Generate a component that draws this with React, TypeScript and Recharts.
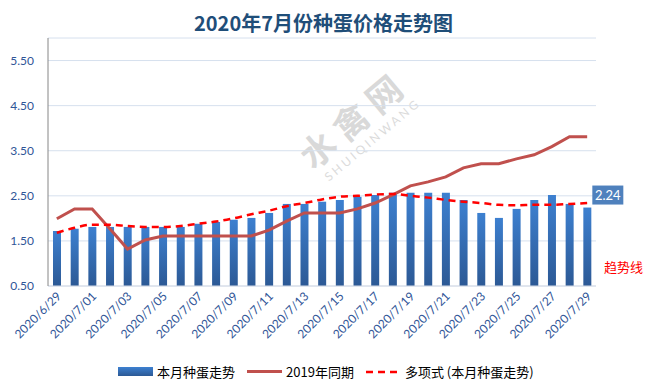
import React from "react";
import { ComposedChart, Bar, Line, XAxis, YAxis, CartesianGrid, LabelList } from "recharts";

const dates = [
  "2020/6/29", "2020/6/30", "2020/7/01", "2020/7/02", "2020/7/03", "2020/7/04", "2020/7/05", "2020/7/06",
  "2020/7/07", "2020/7/08", "2020/7/09", "2020/7/10", "2020/7/11", "2020/7/12", "2020/7/13", "2020/7/14",
  "2020/7/15", "2020/7/16", "2020/7/17", "2020/7/18", "2020/7/19", "2020/7/20", "2020/7/21", "2020/7/22",
  "2020/7/23", "2020/7/24", "2020/7/25", "2020/7/26", "2020/7/27", "2020/7/28", "2020/7/29",
];

// 本月种蛋走势
const thisMonth = [
  1.72, 1.77, 1.81, 1.81, 1.81, 1.81, 1.81, 1.81, 1.88, 1.92, 1.97, 2.01, 2.12, 2.32, 2.32, 2.37,
  2.41, 2.48, 2.52, 2.57, 2.57, 2.57, 2.57, 2.41, 2.12, 2.01, 2.21, 2.41, 2.52, 2.32, 2.24,
];

// 2019年同期
const lastYear = [
  1.99, 2.21, 2.21, 1.77, 1.32, 1.52, 1.61, 1.61, 1.61, 1.61, 1.61, 1.61, 1.74, 1.94, 2.12, 2.12,
  2.12, 2.21, 2.34, 2.52, 2.72, 2.81, 2.92, 3.12, 3.21, 3.21, 3.32, 3.41, 3.59, 3.81, 3.81,
];

// 多项式 (本月种蛋走势)
const trend = [
  1.68, 1.79, 1.86, 1.86, 1.83, 1.81, 1.81, 1.83, 1.88, 1.93, 2.0, 2.09, 2.17, 2.27, 2.34, 2.42,
  2.48, 2.5, 2.53, 2.54, 2.5, 2.46, 2.41, 2.37, 2.34, 2.3, 2.29, 2.3, 2.3, 2.32, 2.34,
];

const yTicks = [0.5, 1.5, 2.5, 3.5, 4.5, 5.5];

const data = dates.map((d, i) => ({
  date: d,
  thisMonth: thisMonth[i],
  lastYear: lastYear[i],
  trend: trend[i],
}));

const font = "Lato, 'Noto Sans CJK SC', sans-serif";
const cjk = "'Noto Sans CJK SC', sans-serif";

const XTick = (props: any) => {
  const { x, y, payload } = props;
  const ax = x + 5;
  const ay = y + 9;
  return (
    <text
      x={ax}
      y={ay}
      transform={`rotate(-45 ${ax} ${ay})`}
      textAnchor="end"
      fontSize={12}
      fontFamily={font}
      fill="#2F5597"
    >
      {payload.value}
    </text>
  );
};

const LastLabel = (props: any) => {
  const { x, y, width, index, value } = props;
  if (index !== thisMonth.length - 1) return null;
  const bx = x + width + 1;
  const by = y - 22;
  return (
    <g>
      <rect x={bx} y={by} width={31} height={19} fill="#4F81BD" />
      <text x={bx + 15.5} y={by + 14} textAnchor="middle" fontSize={13} fontFamily={font} fill="#fff">
        {Number(value).toFixed(2)}
      </text>
    </g>
  );
};

export default function App() {
  return (
    <div style={{ position: "absolute", left: 0, top: 0, width: 647, height: 392, background: "#fff", overflow: "hidden" }}>
      {/* watermark */}
      <div
        style={{
          position: "absolute",
          left: 288,
          top: 92,
          transform: "rotate(-40deg)",
          color: "#8a8a8a",
          opacity: 0.32,
          fontFamily: cjk,
          fontSize: 35,
          fontWeight: 700,
          letterSpacing: 8,
          whiteSpace: "nowrap",
        }}
      >
        水禽网
      </div>
      <div
        style={{
          position: "absolute",
          left: 312,
          top: 132,
          transform: "rotate(-40deg)",
          color: "#9a9a9a",
          opacity: 0.35,
          fontFamily: font,
          fontSize: 12,
          letterSpacing: 3,
          whiteSpace: "nowrap",
        }}
      >
        SHUIQINWANG
      </div>

      <div
        style={{
          position: "absolute",
          left: 0,
          top: 8,
          width: 647,
          textAlign: "center",
          fontFamily: cjk,
          fontWeight: 700,
          fontSize: 20,
          color: "#1F4E79",
        }}
      >
        2020年7月份种蛋价格走势图
      </div>

      <div style={{ position: "absolute", left: 0, top: 0 }}>
        <ComposedChart width={647} height={392} data={data} margin={{ top: 38, right: 51, bottom: 36, left: 0 }}>
          <defs>
            <linearGradient id="barGrad" x1="0" y1="0" x2="0" y2="1">
              <stop offset="0%" stopColor="#3D80D0" />
              <stop offset="100%" stopColor="#2C5995" />
            </linearGradient>
          </defs>
          <CartesianGrid horizontal vertical={false} stroke="#D6E0EE" strokeWidth={1} />
          <XAxis
            dataKey="date"
            interval={1}
            height={70}
            tickLine={false}
            tickSize={0}
            axisLine={{ stroke: "#D6DCE5" }}
            tick={<XTick />}
          />
          <YAxis
            domain={[0.5, 6]}
            ticks={yTicks}
            width={48}
            tickLine={false}
            tickSize={0}
            tickMargin={14}
            tickFormatter={(v: number) => v.toFixed(2)}
            axisLine={{ stroke: "#868686" }}
            tick={{ fontSize: 12, fontFamily: font, fill: "#2F5597" }}
            allowDataOverflow
          />
          <Bar dataKey="thisMonth" fill="url(#barGrad)" barSize={8} isAnimationActive={false}>
            <LabelList dataKey="thisMonth" content={<LastLabel />} />
          </Bar>
          <Line
            type="linear"
            dataKey="lastYear"
            stroke="#C0504D"
            strokeWidth={3}
            dot={false}
            isAnimationActive={false}
          />
          <Line
            type="monotone"
            dataKey="trend"
            stroke="#FF0000"
            strokeWidth={2.5}
            strokeDasharray="7 5"
            dot={false}
            isAnimationActive={false}
          />
        </ComposedChart>
      </div>

      <div
        style={{
          position: "absolute",
          left: 604,
          top: 257,
          color: "#FF0000",
          fontFamily: cjk,
          fontSize: 13,
          whiteSpace: "nowrap",
        }}
      >
        趋势线
      </div>

      {/* legend */}
      <div
        style={{
          position: "absolute",
          left: 118,
          top: 362,
          display: "flex",
          alignItems: "center",
          fontFamily: cjk,
          fontSize: 13,
          color: "#000",
          whiteSpace: "nowrap",
        }}
      >
        <div style={{ width: 35, height: 9, background: "linear-gradient(#3D80D0, #2C5995)", marginRight: 4 }} />
        <span style={{ marginRight: 12 }}>本月种蛋走势</span>
        <div style={{ width: 35, height: 3, background: "#C0504D", marginRight: 4 }} />
        <span style={{ marginRight: 12 }}>2019年同期</span>
        <svg width={35} height={6} style={{ marginRight: 4 }}>
          <line x1={0} y1={3} x2={35} y2={3} stroke="#FF0000" strokeWidth={2.5} strokeDasharray="7 5" />
        </svg>
        <span>多项式 (本月种蛋走势)</span>
      </div>
    </div>
  );
}
